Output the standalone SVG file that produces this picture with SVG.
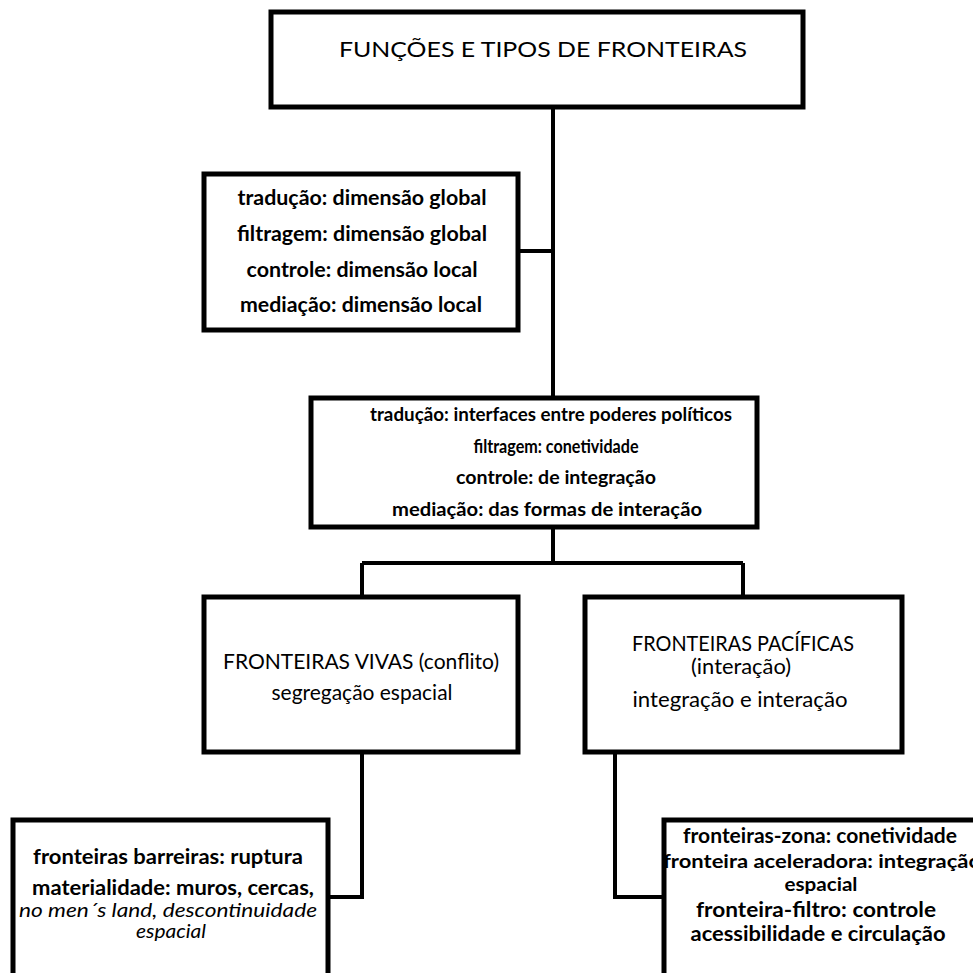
<svg xmlns="http://www.w3.org/2000/svg" width="973" height="973" viewBox="0 0 973 973">
<style>
.box{fill:#fff;stroke:#000;stroke-width:5}
.con{fill:none;stroke:#000;stroke-width:4}
text{font-family:Lato,"Open Sans","Liberation Sans",sans-serif;fill:#000;text-anchor:middle}
.b{font-weight:bold}
.i{font-style:italic}
</style>
<rect width="973" height="973" fill="#fff"/>
<g id="connectors">
<path class="con" d="M553 107V397M518 251H553"/>
<path class="con" d="M553 527V563M362 563H743M362 563V596M743 563V596"/>
<path class="con" d="M362 752V897H328"/>
<path class="con" d="M615 752V897H664"/>
</g>
<g id="n-title">
<rect class="box" x="271" y="12" width="532" height="95"/>
<text x="543" y="57" font-size="22" textLength="408" lengthAdjust="spacingAndGlyphs">FUNÇÕES E TIPOS DE FRONTEIRAS</text>
</g>
<g id="n-dimensoes">
<rect class="box" x="204" y="174" width="314" height="156"/>
<text class="b" font-size="20" x="362" y="205" textLength="249" lengthAdjust="spacingAndGlyphs">tradução: dimensão global</text>
<text class="b" font-size="20" x="362" y="241" textLength="250" lengthAdjust="spacingAndGlyphs">filtragem: dimensão global</text>
<text class="b" font-size="20" x="362" y="277" textLength="231" lengthAdjust="spacingAndGlyphs">controle: dimensão local</text>
<text class="b" font-size="20" x="361" y="312" textLength="242" lengthAdjust="spacingAndGlyphs">mediação: dimensão local</text>
</g>
<g id="n-funcoes">
<rect class="box" x="311" y="398" width="446" height="129"/>
<text class="b" font-size="18" x="551" y="421" textLength="362" lengthAdjust="spacingAndGlyphs">tradução: interfaces entre poderes políticos</text>
<text class="b" font-size="18" x="556" y="453" textLength="165" lengthAdjust="spacingAndGlyphs">filtragem: conetividade</text>
<text class="b" font-size="18" x="556" y="484" textLength="200" lengthAdjust="spacingAndGlyphs">controle: de integração</text>
<text class="b" font-size="18" x="547" y="516" textLength="310" lengthAdjust="spacingAndGlyphs">mediação: das formas de interação</text>
</g>
<g id="n-vivas">
<rect class="box" x="204" y="597" width="314" height="155"/>
<text font-size="21" x="361" y="669" textLength="276" lengthAdjust="spacingAndGlyphs">FRONTEIRAS VIVAS (conflito)</text>
<text font-size="21" x="362" y="700" textLength="181" lengthAdjust="spacingAndGlyphs">segregação espacial</text>
</g>
<g id="n-pacificas">
<rect class="box" x="585" y="597" width="317" height="155"/>
<text font-size="21" x="743" y="651" textLength="222" lengthAdjust="spacingAndGlyphs">FRONTEIRAS PACÍFICAS</text>
<text font-size="21" x="741" y="674" textLength="100" lengthAdjust="spacingAndGlyphs">(interação)</text>
<text font-size="21" x="740" y="707" textLength="215" lengthAdjust="spacingAndGlyphs">integração e interação</text>
</g>
<g id="n-barreiras">
<rect class="box" x="13" y="820" width="315" height="170"/>
<text class="b" font-size="21" x="168" y="864" textLength="270" lengthAdjust="spacingAndGlyphs">fronteiras barreiras: ruptura</text>
<text class="b" font-size="21" x="173" y="895" textLength="282" lengthAdjust="spacingAndGlyphs">materialidade: muros, cercas,</text>
<text class="i" font-size="19" x="168" y="917" textLength="298" lengthAdjust="spacingAndGlyphs">no men´s land, descontinuidade</text>
<text class="i" font-size="19" x="171" y="938" textLength="70" lengthAdjust="spacingAndGlyphs">espacial</text>
</g>
<g id="n-zona">
<rect class="box" x="664" y="820" width="320" height="170"/>
<text class="b" font-size="20" x="820" y="843" textLength="274" lengthAdjust="spacingAndGlyphs">fronteiras-zona: conetividade</text>
<text class="b" font-size="18" x="822" y="868" textLength="318" lengthAdjust="spacingAndGlyphs">fronteira aceleradora: integração</text>
<text class="b" font-size="18" x="821" y="891" textLength="73" lengthAdjust="spacingAndGlyphs">espacial</text>
<text class="b" font-size="20" x="816" y="917" textLength="240" lengthAdjust="spacingAndGlyphs">fronteira-filtro: controle</text>
<text class="b" font-size="20" x="818" y="941" textLength="255" lengthAdjust="spacingAndGlyphs">acessibilidade e circulação</text>
</g>
</svg>
